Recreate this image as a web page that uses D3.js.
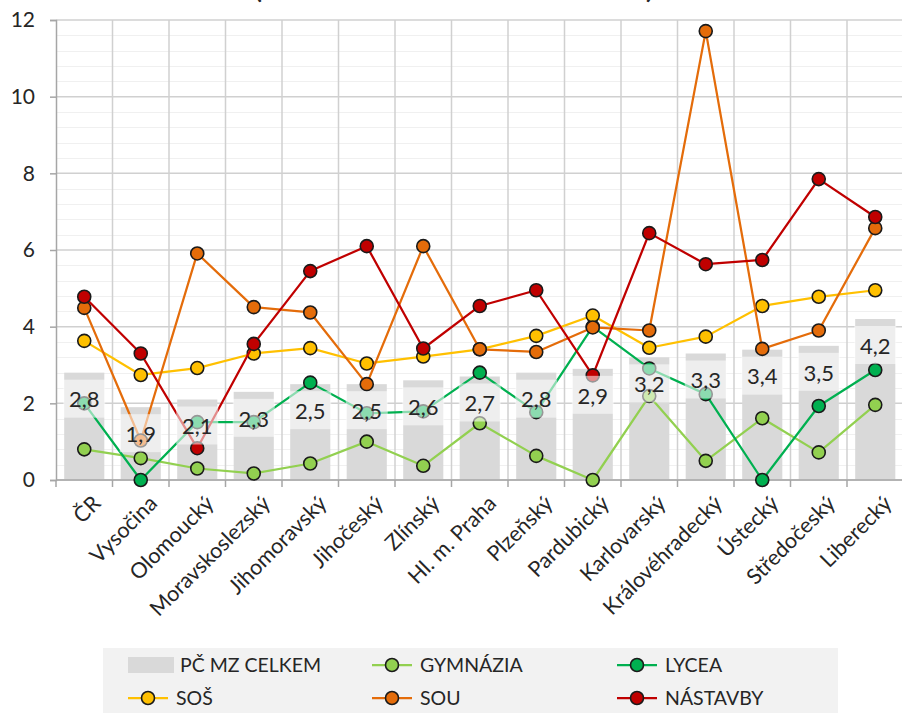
<!DOCTYPE html>
<html><head><meta charset="utf-8">
<script src="https://cdn.jsdelivr.net/npm/d3@7"></script>
<style>body{margin:0;background:#fff}svg{display:block}text{font-family:Lato,"Open Sans",sans-serif}</style>
</head><body>
<script>
const categories = ["ČR","Vysočina","Olomoucký","Moravskoslezský","Jihomoravský","Jihočeský","Zlínský","Hl. m. Praha","Plzeňský","Pardubický","Karlovarský","Královéhradecký","Ústecký","Středočeský","Liberecký"];
const celkem    = [2.8,1.9,2.1,2.3,2.5,2.5,2.6,2.7,2.8,2.9,3.2,3.3,3.4,3.5,4.2];
const gymnazia  = [0.80,0.57,0.30,0.17,0.43,1.00,0.37,1.48,0.63,0.00,2.19,0.50,1.61,0.72,1.96];
const lycea     = [2.00,0.00,1.51,1.51,2.54,1.74,1.79,2.80,1.77,4.00,2.91,2.24,0.00,1.93,2.87];
const sos       = [3.63,2.74,2.92,3.30,3.44,3.04,3.22,3.41,3.76,4.29,3.45,3.74,4.54,4.78,4.95];
const sou       = [4.49,1.03,5.91,4.51,4.37,2.50,6.10,3.41,3.34,3.98,3.90,11.71,3.42,3.90,6.57];
const nastavby  = [4.78,3.30,0.83,3.55,5.45,6.10,3.43,4.54,4.95,2.73,6.44,5.63,5.74,7.85,6.86];
const yTicks = [0,2,4,6,8,10,12];
const seriesNames = ["GYMNÁZIA","LYCEA","SOŠ","SOU","NÁSTAVBY"];
const seriesColors = ["#92d050","#00b050","#ffc000","#e46c0a","#c00000"];
const seriesData = [gymnazia,lycea,sos,sou,nastavby];

const W=902,H=713;
const svg=d3.select("body").append("svg").attr("width",W).attr("height",H);
svg.append("rect").attr("width",W).attr("height",H).attr("fill","#fff");

const x=d3.scaleBand().domain(categories).range([56,903.5]).paddingInner(0.29).paddingOuter(0.145);
const y=d3.scaleLinear().domain([0,12]).range([480,20]);
const cx=c=>x(c)+x.bandwidth()/2;

// title (mostly above the visible area, as in the reference)
svg.append("text").attr("x",255).attr("y",-1).attr("textLength",398).attr("lengthAdjust","spacingAndGlyphs")
  .attr("font-size",20).attr("font-weight","bold").attr("fill","#262626").text("(PODÍL NEÚSPĚŠNÝCH ŽÁKŮ V %)");

// minor gridlines
const minor=d3.range(0,12.001,0.4).filter(v=>Math.abs(v/2-Math.round(v/2))>1e-6);
svg.append("g").selectAll("line").data(minor).join("line")
  .attr("x1",56).attr("x2",W).attr("y1",d=>Math.round(y(d))+0.5).attr("y2",d=>Math.round(y(d))+0.5)
  .attr("stroke","#f0f0f0").attr("stroke-width",1.2);
// major gridlines
svg.append("g").selectAll("line").data(yTicks).join("line")
  .attr("x1",56).attr("x2",W).attr("y1",d=>y(d)).attr("y2",d=>y(d))
  .attr("stroke","#d0d0d0").attr("stroke-width",1.5);
// vertical gridlines at category boundaries
const step=x.step(), half=step*x.paddingInner()/2;
const bounds=categories.map(c=>x(c)-half).concat([x(categories[categories.length-1])+x.bandwidth()+half]);
svg.append("g").selectAll("line").data(bounds.slice(1)).join("line")
  .attr("x1",d=>d).attr("x2",d=>d).attr("y1",20).attr("y2",480)
  .attr("stroke","#d0d0d0").attr("stroke-width",1.5);

// bars
svg.append("g").selectAll("rect").data(categories).join("rect")
  .attr("x",c=>x(c)).attr("width",x.bandwidth())
  .attr("y",(c,i)=>y(celkem[i])).attr("height",(c,i)=>y(0)-y(celkem[i]))
  .attr("fill","#d9d9d9");

// axes
const yAxis=d3.axisLeft(y).tickValues(yTicks).tickSize(6).tickPadding(15).tickFormat(d3.format("d"));
const gy=svg.append("g").attr("transform","translate(56,0)").call(yAxis);
gy.select(".domain").attr("stroke","#a6a6a6").attr("stroke-width",1.5);
gy.selectAll(".tick line").attr("stroke","#a6a6a6").attr("stroke-width",1.5);
gy.selectAll(".tick text").attr("font-size",21).attr("fill","#262626").attr("font-family","Lato,sans-serif");

const gx=svg.append("g").attr("transform","translate(0,480)");
gx.append("line").attr("x1",56).attr("x2",W).attr("y1",0).attr("y2",0).attr("stroke","#a6a6a6").attr("stroke-width",1.5);
gx.selectAll("line.tk").data(bounds).join("line").attr("class","tk")
  .attr("x1",d=>d).attr("x2",d=>d).attr("y1",0).attr("y2",7).attr("stroke","#a6a6a6").attr("stroke-width",1.5);
gx.selectAll("text").data(categories).join("text")
  .attr("transform",c=>`translate(${cx(c)+7},14) rotate(-45)`)
  .attr("text-anchor","end").attr("dy","0.71em").attr("font-size",21.5).attr("fill","#262626").text(c=>c);

// lines
seriesData.forEach((vals,si)=>{
  const g=svg.append("g");
  const line=d3.line().x((d,i)=>cx(categories[i])).y(d=>y(d));
  g.append("path").datum(vals).attr("d",line).attr("fill","none")
    .attr("stroke",seriesColors[si]).attr("stroke-width",2.25).attr("stroke-linejoin","round");
  g.selectAll("circle").data(vals).join("circle")
    .attr("cx",(d,i)=>cx(categories[i])).attr("cy",d=>y(d)).attr("r",6.5)
    .attr("fill",seriesColors[si]).attr("stroke","#1a1a1a").attr("stroke-width",1.6);
});

// data labels for bars
const lg=svg.append("g");
categories.forEach((c,i)=>{
  const top=y(celkem[i]);
  lg.append("rect").attr("x",cx(c)-21).attr("y",top+7).attr("width",42).attr("height",38)
    .attr("fill","#fff").attr("fill-opacity",0.55);
  lg.append("text").attr("x",cx(c)).attr("y",top+27).attr("dy","0.35em").attr("text-anchor","middle")
    .attr("font-size",22).attr("fill","#262626").text(d3.format(".1f")(celkem[i]).replace(".",","));
});

// legend
const leg=svg.append("g");
leg.append("rect").attr("x",103).attr("y",648).attr("width",735).attr("height",70).attr("fill","#f2f2f2");
const items=[{name:"PČ MZ CELKEM",type:"bar",color:"#d9d9d9"}].concat(seriesNames.map((n,i)=>({name:n,type:"line",color:seriesColors[i]})));
const colX=[128,372,617], rowY=[665,698];
items.forEach((it,k)=>{
  const col=k%3,row=Math.floor(k/3);
  const lx=colX[col],ly=rowY[row];
  if(it.type==="bar"){
    leg.append("rect").attr("x",lx).attr("y",ly-8).attr("width",46).attr("height",16).attr("fill",it.color);
    leg.append("text").attr("x",lx+52).attr("y",ly).attr("dy","0.35em").attr("font-size",19.5).attr("fill","#262626").text(it.name);
  } else {
    leg.append("line").attr("x1",lx).attr("x2",lx+40).attr("y1",ly).attr("y2",ly).attr("stroke",it.color).attr("stroke-width",2.25);
    leg.append("circle").attr("cx",lx+20).attr("cy",ly).attr("r",6.5).attr("fill",it.color).attr("stroke","#1a1a1a").attr("stroke-width",1.6);
    leg.append("text").attr("x",lx+48).attr("y",ly).attr("dy","0.35em").attr("font-size",19.5).attr("fill","#262626").text(it.name);
  }
});
</script>
</body></html>
